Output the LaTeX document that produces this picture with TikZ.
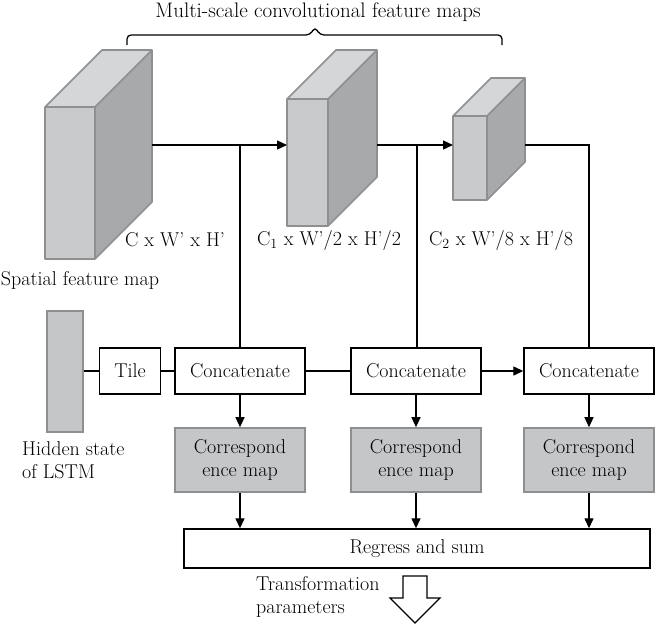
\documentclass[tikz,border=0pt]{standalone}
\usetikzlibrary{arrows.meta}
\definecolor{cfront}{HTML}{C9CACC}
\definecolor{ctop}{HTML}{D5D6D8}
\definecolor{cside}{HTML}{A8A9AB}
\definecolor{cedge}{HTML}{8E8F91}
\definecolor{cbox}{HTML}{C5C6C8}
\newcommand\mycuboid[5]{%
  % #1 x1, #2 x2, #3 y1, #4 y2, #5 depth
  \fill[ctop] (#1,#3) -- (#2,#3) -- ({#2+#5},{#3-#5}) -- ({#1+#5},{#3-#5}) -- cycle;
  \fill[cside] (#2,#3) -- ({#2+#5},{#3-#5}) -- ({#2+#5},{#4-#5}) -- (#2,#4) -- cycle;
  \fill[cfront] (#1,#3) rectangle (#2,#4);
  \draw[cedge,line width=1.6pt,line join=round] (#1,#3) rectangle (#2,#4)
     (#1,#3) -- ({#1+#5},{#3-#5}) -- ({#2+#5},{#3-#5}) -- ({#2+#5},{#4-#5}) -- (#2,#4)
     (#2,#3) -- ({#2+#5},{#3-#5});
}
\begin{document}
\begin{tikzpicture}[x=1pt,y=-1pt,
  every node/.style={font=\rmfamily\fontsize{20}{23}\selectfont, inner sep=0pt},
  plainbox/.style={draw=black, line width=1.4pt, fill=white, minimum height=46pt},
  graybox/.style={draw=cedge, line width=1.6pt, fill=cbox, minimum width=130pt, minimum height=64pt, align=center},
  conn/.style={line width=1.3pt},
  arr/.style={conn, -{Triangle[length=10pt,width=9pt]}}]
\useasboundingbox (0,0) rectangle (655,625);

% brace and title
\node[font=\rmfamily\fontsize{21}{24}\selectfont] (title) at (318,12) {Multi-scale convolutional feature maps};
\draw[line width=1.3pt, rounded corners=4pt] (127,45) -- (127,35) -- (310,35) -- (315,27) -- (320,35) -- (502,35) -- (502,45);

% cuboids
\mycuboid{45}{95}{107}{259}{57}
\mycuboid{287}{328}{99}{226}{49}
\mycuboid{453}{487}{116}{200}{38}
\coordinate (c1out) at (152,145);
\coordinate (c2in) at (287,145);
\coordinate (c2out) at (377,145);
\coordinate (c3in) at (453,145);
\coordinate (c3out) at (525,145);
\coordinate (j1) at (240,145);
\coordinate (j2) at (417,145);

\node (lab1) at (175,240) {C x W’ x H’};
\node (lab2) at (329,240) {C\textsubscript{1} x W’/2 x H’/2};
\node (lab3) at (501,240) {C\textsubscript{2} x W’/8 x H’/8};
\node (sfm) at (80,280) {Spatial feature map};

% hidden state
\node[draw=cedge, line width=1.6pt, fill=cbox, minimum width=36pt, minimum height=121pt] (hid) at (65,371.5) {};
\node[anchor=north west, align=left] (hidlab) at (22,441) {Hidden state\\of LSTM};

% row boxes
\node[plainbox, minimum width=61pt] (tile) at (130,371) {Tile};
\node[plainbox, minimum width=130pt] (cat1) at (240,371) {Concatenate};
\node[plainbox, minimum width=130pt] (cat2) at (416,371) {Concatenate};
\node[plainbox, minimum width=130pt] (cat3) at (589,371) {Concatenate};

\node[graybox] (cor1) at (240,460) {Correspond\\ence map};
\node[graybox] (cor2) at (416,460) {Correspond\\ence map};
\node[graybox] (cor3) at (589,460) {Correspond\\ence map};

\node[draw=black, line width=1.4pt, fill=white, minimum width=466pt, minimum height=39pt] (reg) at (417,548.5) {Regress and sum};

\node[anchor=north west, align=left] (tp) at (256,576) {Transformation\\parameters};
\draw[line width=1.2pt, fill=white, line join=miter]
  (403,576) -- (427,576) -- (427,598) -- (440,598) -- (415,623) -- (390,598) -- (403,598) -- cycle;

% connectors
\draw[arr] (c1out) -- (c2in);
\draw[arr] (c2out) -- (c3in);
\draw[conn] (j1) -- (cat1.north);
\draw[conn] (j2) -- (j2 |- cat2.north);
\draw[conn] (c3out) -| (cat3.north);
\draw[conn] (hid.east |- tile) -- (tile.west);
\draw[conn] (tile.east) -- (cat1.west);
\draw[conn] (cat1.east) -- (cat2.west);
\draw[arr] (cat2.east) -- (cat3.west);
\draw[arr] (cat1.south) -- (cor1.north);
\draw[arr] (cat2.south) -- (cor2.north);
\draw[arr] (cat3.south) -- (cor3.north);
\draw[arr] (cor1.south) -- (cor1.south |- reg.north);
\draw[arr] (cor2.south) -- (cor2.south |- reg.north);
\draw[arr] (cor3.south) -- (cor3.south |- reg.north);
\end{tikzpicture}
\end{document}
